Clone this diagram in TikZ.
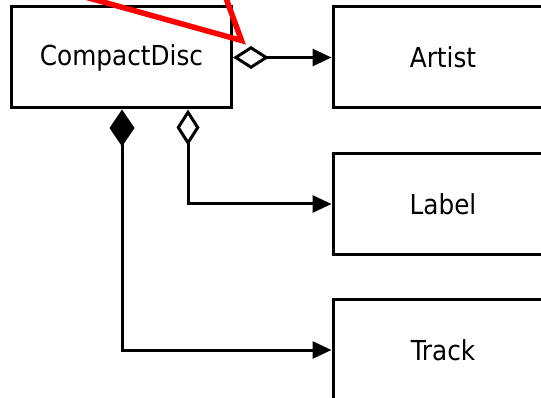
\documentclass[tikz,border=0pt]{standalone}
\usepackage{fontspec}
\setmainfont{DejaVu Sans Condensed}
\usetikzlibrary{arrows.meta}
\definecolor{markred}{RGB}{255,0,0}
\begin{document}
\begin{tikzpicture}[x=1pt,y=-1pt,
  classbox/.style={draw, line width=3pt, minimum width=220pt, minimum height=101pt,
    inner sep=0pt, font=\fontsize{27.5}{30}\selectfont},
  shared/.style={line width=3pt, {Diamond[open,length=36pt,width=23pt]}-{Triangle[length=19pt,width=17pt]}},
  owned/.style={line width=3pt, {Diamond[length=37pt,width=25pt]}-{Triangle[length=19pt,width=17pt]}},
  marker/.style={draw=markred, line width=5.5pt, line join=miter}]
  \clip (0,0) rectangle (541,398);
  \useasboundingbox (0,0) rectangle (541,398);

  % classes
  \node[classbox] (cd)     at (121.5,57.5) {CompactDisc};
  \node[classbox] (artist) at (443,57.5)   {Artist};
  \node[classbox] (label)  at (443,204)    {Label};
  \node[classbox] (track)  at (443,350)    {Track};

  % associations
  \draw[shared] (cd.east) -- (artist.west);
  \draw[shared] ([xshift=66.5pt]cd.south) |- (label.west);
  \draw[owned]  ([xshift=0.5pt]cd.south) |- (track.west);

  % red pointer
  \coordinate (p1) at (60,-10);
  \coordinate (p2) at (241.5,40.5);
  \coordinate (p3) at (223,-10);
  \draw[marker] (p1) -- (p2) -- (p3);
\end{tikzpicture}
\end{document}
